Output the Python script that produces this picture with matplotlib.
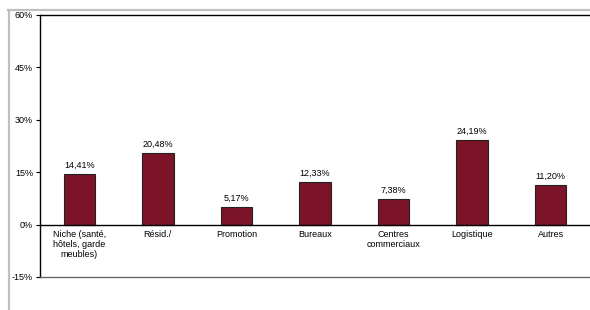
import matplotlib.pyplot as plt
import numpy as np
from matplotlib.lines import Line2D

plt.rcParams['font.family'] = ['Liberation Sans', 'DejaVu Sans']

# données
categories = ['Niche (santé,\nhôtels, garde\nmeubles)', 'Résid./', 'Promotion', 'Bureaux',
              'Centres\ncommerciaux', 'Logistique', 'Autres']
values = [14.41, 20.48, 5.17, 12.33, 7.38, 24.19, 11.20]
yticks = [-15, 0, 15, 30, 45, 60]

W, H = 590, 310
fig = plt.figure(figsize=(W / 100, H / 100), dpi=100)

# cadre gris du graphique Excel
fig.add_artist(Line2D([8 / W, 1], [1 - 9.5 / H] * 2, color='#c0c0c0', lw=1.6, transform=fig.transFigure))
fig.add_artist(Line2D([9 / W] * 2, [1 - 9.5 / H, 0], color='#c0c0c0', lw=1.6, transform=fig.transFigure))

ax = fig.add_axes([40 / W, 1 - 277 / H, 550 / W, 262 / H])
x = np.arange(len(categories))
bars = ax.bar(x, values, width=0.4, color='#7b1428', edgecolor='#222222', linewidth=0.8, zorder=3)

ax.set_xlim(-0.5, len(categories) - 0.5)
ax.set_ylim(-15, 60)
ax.set_yticks(yticks)
ax.set_yticklabels([f'{t}%' for t in yticks], fontsize=6.5)
ax.tick_params(axis='y', length=3, width=0.8, pad=2)
ax.set_xticks([])

ax.axhline(0, color='black', lw=1.0, zorder=4)
for s in ['right']:
    ax.spines[s].set_visible(False)
ax.spines['top'].set_linewidth(1.0)
ax.spines['left'].set_linewidth(1.0)
ax.spines['bottom'].set_color('#666666')
ax.spines['bottom'].set_linewidth(1.0)

for xi, v in zip(x, values):
    ax.text(xi, v + 1.2, f'{v:.2f}%'.replace('.', ','), ha='center', va='bottom', fontsize=6.5)
for xi, c in zip(x, categories):
    ax.text(xi, -1.6, c, ha='center', va='top', fontsize=6.5, linespacing=1.15)

fig.savefig('out.png', dpi=100)
